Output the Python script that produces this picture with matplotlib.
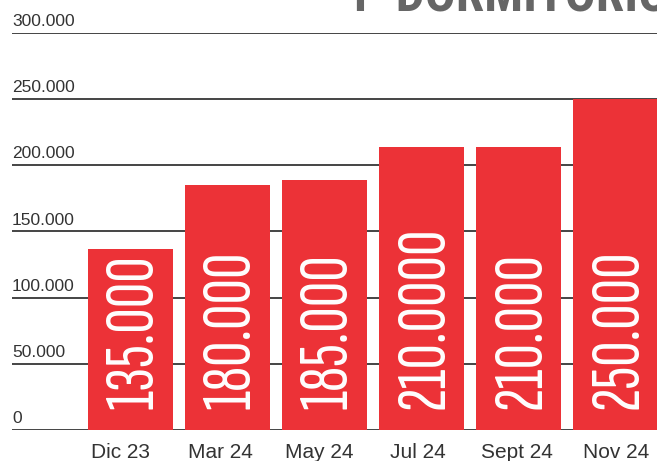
import matplotlib
matplotlib.use("Agg")
import matplotlib.pyplot as plt
import matplotlib.transforms as mtransforms
import numpy as np

meses = ["Dic 23", "Mar 24", "May 24", "Jul 24", "Sept 24", "Nov 24"]
alturas = [137000, 185500, 189000, 213500, 213500, 250000]
etiquetas = ["135.000", "180.000", "185.000", "210.0000", "210.000", "250.000"]
ticks_y = [0, 50000, 100000, 150000, 200000, 250000, 300000]
ticks_y_txt = ["0", "50.000", "100.000", "150.000", "200.000", "250.000", "300.000"]
titulo = "1  DORMITORIO"

ROJO = "#EC3237"
GRIS = "#444444"

fig = plt.figure(figsize=(6.57, 4.61), dpi=100)
ax = fig.add_axes([12 / 657, 31 / 461, 645 / 657, 397 / 461])

x = np.arange(len(meses))
ax.bar(x, alturas, width=0.876, color=ROJO, zorder=3)

for v, t in zip(ticks_y, ticks_y_txt):
    ax.axhline(v, color=GRIS, lw=1.4, zorder=1)
    tr = mtransforms.offset_copy(ax.get_yaxis_transform(), fig=fig, x=0, y=4, units='dots')
    ax.text(0, v, t, transform=tr, ha='left', va='bottom', fontsize=12.5,
            family='Liberation Sans', color='#333333')

# etiquetas de meses (en el original no quedan centradas del todo, van algo a la izquierda)
for xi, m in zip(x, meses):
    tr_x = mtransforms.offset_copy(ax.transData, fig=fig, x=-9.5 + 2 * xi, y=-13, units='dots')
    ax.text(xi, 0, m, transform=tr_x, ha='center', va='top', fontsize=15,
            family='Liberation Sans', color='#333333', clip_on=False)

# valores dentro de las barras
tr_v = mtransforms.offset_copy(ax.transData, fig=fig, x=4, y=21, units='dots')
for xi, e in zip(x, etiquetas):
    ax.text(xi, 0, e, transform=tr_v, rotation=90, ha='center', va='bottom',
            fontsize=51, family='Sofia Sans Extra Condensed', fontweight=200,
            color='white', zorder=4)

ax.set_xlim(-1.2216, 5.4278)
ax.set_ylim(0, 300000)
ax.axis('off')

fig.text(346 / 657, 1 - 11 / 461, titulo, ha='left', va='baseline', fontsize=37,
         family='Roboto Condensed', fontweight='bold', color='#666666')

fig.savefig("out.png", dpi=100)
